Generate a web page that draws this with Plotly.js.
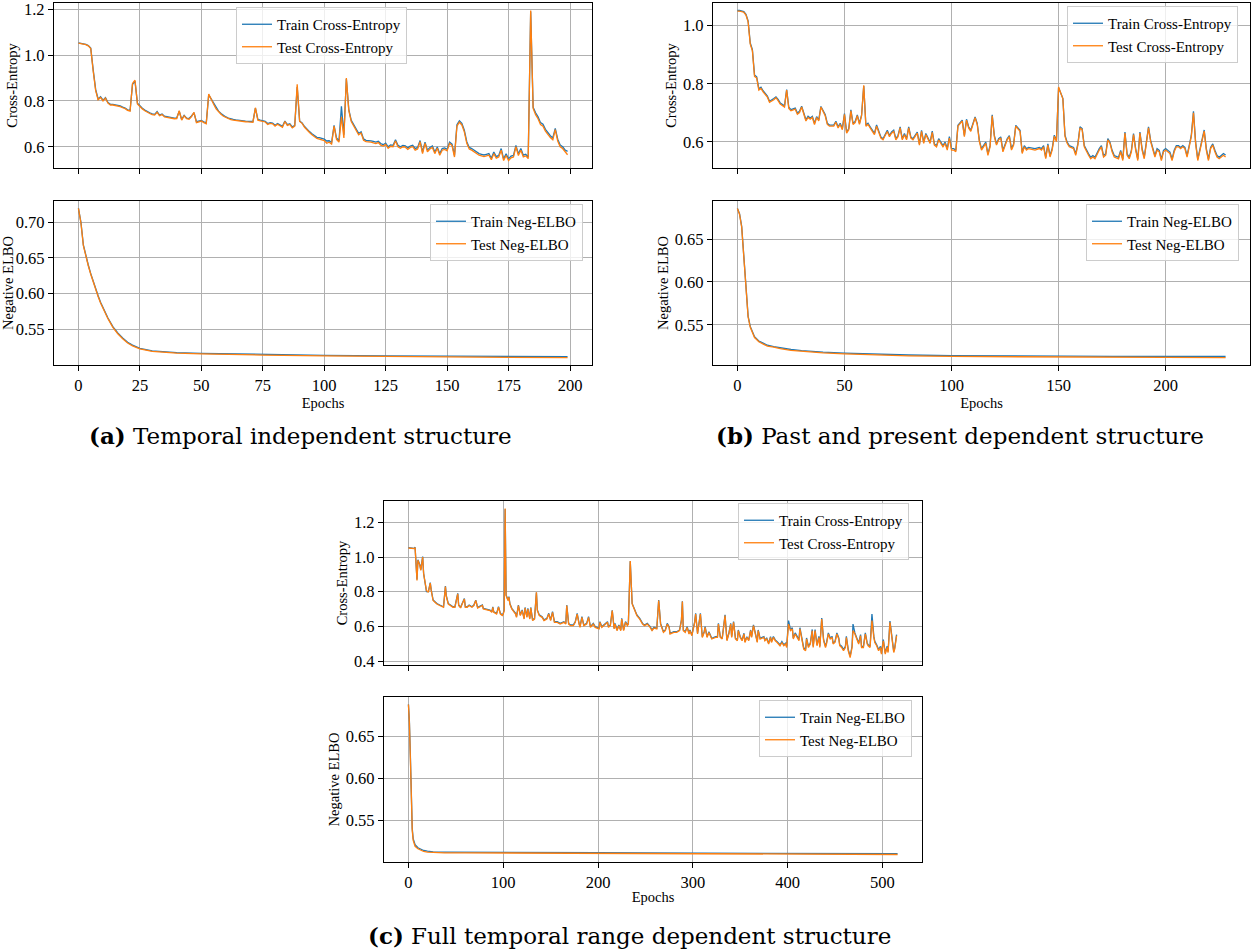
<!DOCTYPE html>
<html><head><meta charset="utf-8">
<script src="https://cdn.plot.ly/plotly-3.0.1.min.js"></script>
<style>body{margin:0;background:#fff}</style></head><body>
<div id="chart" style="width:1253px;height:950px"></div>
<script>
// ---------- (a) Temporal independent structure ----------
const aCeTest = [1.052,1.050,1.048,1.045,1.040,1.028,0.930,0.845,0.805,0.815,
0.800,0.812,0.790,0.782,0.782,0.780,0.778,0.775,0.770,0.766,
0.758,0.755,0.876,0.890,0.787,0.775,0.765,0.757,0.750,0.745,
0.740,0.738,0.750,0.735,0.740,0.730,0.728,0.725,0.724,0.722,
0.723,0.757,0.716,0.735,0.722,0.720,0.731,0.750,0.705,0.710,
0.712,0.705,0.700,0.830,0.805,0.785,0.765,0.752,0.742,0.733,
0.727,0.722,0.718,0.716,0.714,0.712,0.711,0.710,0.709,0.708,
0.707,0.707,0.770,0.716,0.713,0.712,0.708,0.697,0.702,0.700,
0.690,0.698,0.693,0.685,0.710,0.693,0.697,0.682,0.690,0.872,
0.710,0.702,0.685,0.672,0.662,0.652,0.643,0.636,0.633,0.630,
0.627,0.615,0.620,0.612,0.690,0.632,0.620,0.730,0.638,0.900,
0.757,0.710,0.690,0.667,0.652,0.660,0.628,0.622,0.622,0.620,
0.617,0.614,0.618,0.607,0.603,0.610,0.593,0.602,0.600,0.625,
0.600,0.593,0.600,0.598,0.588,0.597,0.600,0.585,0.590,0.622,
0.570,0.615,0.578,0.590,0.597,0.570,0.593,0.563,0.585,0.588,
0.582,0.615,0.605,0.555,0.690,0.707,0.695,0.665,0.615,0.590,
0.585,0.578,0.572,0.563,0.560,0.557,0.560,0.563,0.543,0.570,
0.550,0.555,0.585,0.540,0.562,0.540,0.552,0.555,0.600,0.562,
0.585,0.556,0.560,0.548,1.194,0.767,0.740,0.722,0.697,0.690,
0.668,0.652,0.640,0.630,0.675,0.625,0.600,0.592,0.578,0.565];
const aCeTrain = [1.053,1.051,1.049,1.046,1.041,1.030,0.935,0.850,0.808,0.818,
0.803,0.814,0.793,0.785,0.785,0.783,0.781,0.778,0.773,0.769,
0.761,0.758,0.872,0.886,0.790,0.778,0.768,0.760,0.753,0.748,
0.743,0.741,0.753,0.738,0.743,0.733,0.731,0.728,0.727,0.725,
0.726,0.755,0.719,0.737,0.725,0.723,0.734,0.748,0.709,0.713,
0.715,0.709,0.704,0.826,0.808,0.788,0.768,0.755,0.745,0.736,
0.730,0.725,0.721,0.719,0.717,0.715,0.714,0.713,0.712,0.711,
0.710,0.710,0.768,0.719,0.716,0.715,0.711,0.701,0.705,0.703,
0.694,0.701,0.696,0.689,0.712,0.696,0.700,0.686,0.693,0.860,
0.712,0.704,0.688,0.675,0.666,0.657,0.648,0.641,0.640,0.636,
0.633,0.625,0.626,0.618,0.693,0.638,0.626,0.776,0.652,0.895,
0.762,0.715,0.695,0.672,0.658,0.665,0.634,0.628,0.628,0.626,
0.623,0.620,0.624,0.614,0.609,0.616,0.600,0.608,0.606,0.630,
0.606,0.600,0.606,0.604,0.595,0.603,0.606,0.592,0.597,0.627,
0.577,0.620,0.585,0.597,0.603,0.577,0.599,0.570,0.592,0.595,
0.589,0.620,0.611,0.562,0.696,0.713,0.702,0.672,0.622,0.597,
0.592,0.585,0.579,0.570,0.567,0.564,0.567,0.570,0.550,0.577,
0.557,0.562,0.592,0.547,0.569,0.547,0.559,0.562,0.606,0.569,
0.592,0.563,0.567,0.555,1.190,0.772,0.748,0.730,0.705,0.698,
0.676,0.660,0.648,0.638,0.680,0.633,0.608,0.600,0.586,0.580];
const aCeEpochs = aCeTest.map((v, i) => i);

const aElboEpochs = [0,1,2,3,4,5,6,7,8,9,10,12,14,16,18,20,22,25,30,35,40,50,60,75,100,125,150,175,199];
const aElboTrain = [0.719,0.700,0.668,0.652,0.640,0.628,0.617,0.606,0.597,0.588,0.580,0.566,0.554,0.545,0.538,0.532,0.528,0.5235,0.5200,0.5185,0.5175,0.5165,0.5158,0.5150,0.5138,0.5130,0.5125,0.5122,0.5120];
const aElboTest  = [0.719,0.699,0.667,0.651,0.639,0.627,0.616,0.605,0.596,0.587,0.579,0.565,0.553,0.544,0.537,0.531,0.527,0.5228,0.5193,0.5178,0.5168,0.5158,0.5150,0.5142,0.5130,0.5120,0.5114,0.5110,0.5107];

// ---------- (b) Past and present dependent structure ----------
const bCeEpochs = [0,1,3,4,5,6,7,8,9,10,
11,12,14,15,17,18,19,20,22,23,
24,25,27,28,29,30,32,33,34,35,
36,37,38,39,41,42,43,45,46,47,
48,49,50,51,52,53,54,55,56,57,
58,59,60,61,62,64,65,66,67,68,
70,71,72,73,74,75,76,77,78,79,
80,81,82,84,85,86,87,88,90,91,
92,93,94,95,96,97,98,99,100,101,
102,103,105,106,107,108,109,111,112,113,
114,116,117,118,119,120,121,122,123,124,
126,127,128,129,130,132,133,134,135,136,
138,139,141,142,143,144,145,146,147,148,
149,150,152,153,154,155,157,158,159,160,
161,162,164,165,166,167,169,170,171,172,
173,174,175,176,178,179,180,181,182,183,
184,185,186,187,188,189,190,191,192,193,
194,195,196,197,198,199,200,202,203,204,
205,206,207,208,209,210,211,212,213,214,
215,216,217,218,219,220,221,222,223,224,
225,226,227,228];
const bCeTest = [1.050,1.050,1.046,1.036,1.013,0.936,0.913,0.825,0.820,0.778,
0.784,0.772,0.754,0.736,0.745,0.752,0.742,0.730,0.720,0.778,
0.715,0.707,0.713,0.695,0.701,0.720,0.672,0.684,0.678,0.684,
0.660,0.684,0.672,0.720,0.690,0.660,0.654,0.654,0.668,0.648,
0.660,0.642,0.695,0.630,0.642,0.707,0.660,0.666,0.690,0.660,
0.690,0.795,0.654,0.660,0.648,0.625,0.654,0.630,0.613,0.607,
0.636,0.618,0.630,0.636,0.607,0.618,0.648,0.607,0.625,0.607,
0.648,0.613,0.607,0.630,0.589,0.636,0.595,0.625,0.595,0.633,
0.589,0.583,0.607,0.595,0.583,0.595,0.572,0.613,0.572,0.572,
0.566,0.654,0.672,0.618,0.675,0.648,0.636,0.683,0.660,0.601,
0.572,0.595,0.554,0.583,0.690,0.618,0.589,0.607,0.613,0.566,
0.607,0.618,0.572,0.589,0.654,0.636,0.560,0.583,0.572,0.577,
0.572,0.572,0.577,0.572,0.583,0.542,0.589,0.548,0.572,0.619,
0.601,0.789,0.748,0.619,0.595,0.583,0.577,0.554,0.589,0.648,
0.642,0.583,0.554,0.542,0.548,0.542,0.572,0.583,0.548,0.554,
0.607,0.595,0.566,0.548,0.542,0.566,0.536,0.630,0.554,0.542,
0.566,0.625,0.572,0.536,0.630,0.572,0.542,0.595,0.648,0.601,
0.572,0.548,0.572,0.566,0.536,0.566,0.572,0.560,0.536,0.566,
0.583,0.583,0.577,0.583,0.577,0.548,0.583,0.619,0.700,0.595,
0.536,0.572,0.601,0.637,0.572,0.536,0.577,0.589,0.566,0.548,
0.542,0.548,0.554,0.548];
const bCeTrain = [1.052,1.052,1.048,1.039,1.016,0.940,0.917,0.830,0.824,0.783,
0.788,0.776,0.758,0.740,0.749,0.755,0.746,0.734,0.724,0.780,
0.719,0.711,0.716,0.699,0.705,0.723,0.676,0.688,0.682,0.688,
0.664,0.687,0.676,0.722,0.694,0.664,0.658,0.658,0.671,0.652,
0.664,0.646,0.697,0.634,0.646,0.710,0.664,0.670,0.693,0.664,
0.693,0.792,0.658,0.664,0.652,0.629,0.658,0.634,0.617,0.611,
0.640,0.622,0.634,0.640,0.611,0.622,0.652,0.611,0.629,0.611,
0.652,0.617,0.611,0.634,0.593,0.640,0.599,0.629,0.599,0.637,
0.593,0.587,0.611,0.599,0.587,0.599,0.577,0.618,0.577,0.577,
0.571,0.657,0.675,0.622,0.678,0.652,0.640,0.686,0.664,0.605,
0.577,0.599,0.559,0.587,0.693,0.622,0.593,0.611,0.617,0.571,
0.611,0.622,0.577,0.593,0.657,0.640,0.565,0.587,0.577,0.581,
0.577,0.577,0.581,0.577,0.587,0.547,0.593,0.553,0.577,0.623,
0.605,0.786,0.750,0.623,0.599,0.587,0.581,0.559,0.593,0.652,
0.646,0.587,0.559,0.547,0.553,0.547,0.577,0.587,0.553,0.559,
0.611,0.599,0.571,0.553,0.547,0.571,0.541,0.634,0.559,0.547,
0.571,0.629,0.577,0.541,0.634,0.577,0.547,0.599,0.652,0.605,
0.577,0.553,0.577,0.571,0.541,0.571,0.577,0.565,0.541,0.571,
0.587,0.587,0.581,0.587,0.581,0.553,0.587,0.623,0.705,0.599,
0.541,0.577,0.605,0.641,0.577,0.541,0.581,0.593,0.571,0.553,
0.547,0.553,0.560,0.555];

const bElboEpochs = [0,1,2,3,4,5,6,7,8,10,12,14,17,20,25,30,35,40,50,60,70,80,100,125,150,175,200,228];
const bElboTrain = [0.686,0.680,0.665,0.632,0.588,0.560,0.548,0.541,0.536,0.531,0.528,0.526,0.5245,0.5230,0.5210,0.5198,0.5188,0.5180,0.5168,0.5160,0.5152,0.5146,0.5139,0.5134,0.5131,0.5130,0.5129,0.5128];
const bElboTest  = [0.686,0.679,0.664,0.630,0.586,0.559,0.547,0.540,0.535,0.530,0.527,0.525,0.5238,0.5220,0.5200,0.5188,0.5178,0.5170,0.5158,0.5150,0.5142,0.5136,0.5129,0.5124,0.5120,0.5118,0.5117,0.5116];

// ---------- (c) Full temporal range dependent structure ----------
const cCeEpochs = [0,3,6,7,8,9,10,12,13,14,
15,16,18,19,21,23,24,25,26,28,
30,33,37,39,40,42,44,47,49,52,
53,55,56,59,60,62,64,67,69,71,
73,76,78,79,83,86,88,89,90,93,
95,97,99,100,101,102,103,105,106,107,
109,113,114,116,118,120,122,123,125,126,
128,129,131,133,135,136,138,141,143,146,
148,150,152,154,157,160,164,166,167,169,
171,174,176,178,180,181,183,185,188,190,
192,195,197,201,202,204,206,210,211,213,
215,217,218,220,222,224,225,227,229,231,
232,234,236,239,241,244,247,249,252,255,
257,259,262,264,266,269,271,273,275,276,
280,283,286,288,289,290,292,294,296,297,
299,302,303,305,306,308,310,312,313,315,
317,319,320,324,326,327,329,331,334,336,
338,340,341,343,345,347,348,350,352,354,
355,357,359,361,362,364,366,368,369,371,
375,376,378,380,382,383,385,387,389,392,
394,396,398,399,401,403,405,406,408,410,
412,413,415,417,419,420,422,424,426,427,
429,431,433,434,436,438,440,441,443,445,
447,448,450,452,454,455,457,459,461,462,
464,466,468,469,471,473,475,477,478,480,
482,484,485,487,489,491,492,494,496,498,
499,501,503,505,506,508,510,512,513,515];
const cCeTest = [1.052,1.050,1.048,1.054,0.971,0.865,0.981,0.952,0.923,0.971,
1.000,0.903,0.845,0.807,0.797,0.849,0.807,0.768,0.749,0.739,
0.729,0.720,0.710,0.830,0.772,0.729,0.720,0.710,0.710,0.787,
0.720,0.706,0.720,0.758,0.710,0.710,0.720,0.710,0.720,0.749,
0.706,0.712,0.720,0.700,0.695,0.691,0.681,0.710,0.681,0.671,
0.710,0.671,0.662,0.671,0.691,1.280,0.778,0.749,0.768,0.729,
0.700,0.671,0.652,0.720,0.662,0.691,0.642,0.706,0.652,0.700,
0.642,0.706,0.633,0.642,0.797,0.691,0.662,0.652,0.633,0.642,
0.671,0.633,0.681,0.623,0.623,0.613,0.623,0.613,0.720,0.613,
0.604,0.604,0.623,0.671,0.613,0.594,0.652,0.604,0.613,0.652,
0.594,0.613,0.594,0.585,0.623,0.594,0.604,0.623,0.594,0.604,
0.691,0.585,0.613,0.575,0.604,0.575,0.642,0.575,0.623,0.604,
0.613,0.977,0.729,0.691,0.662,0.642,0.613,0.604,0.613,0.594,
0.575,0.590,0.585,0.749,0.613,0.565,0.575,0.613,0.594,0.556,
0.565,0.565,0.575,0.633,0.743,0.575,0.565,0.594,0.556,0.575,
0.546,0.623,0.671,0.556,0.594,0.671,0.536,0.565,0.594,0.536,
0.565,0.536,0.527,0.536,0.536,0.613,0.536,0.527,0.662,0.517,
0.556,0.613,0.536,0.623,0.527,0.517,0.575,0.536,0.517,0.556,
0.507,0.536,0.517,0.575,0.536,0.604,0.556,0.507,0.575,0.527,
0.536,0.517,0.527,0.498,0.536,0.507,0.536,0.517,0.507,0.488,
0.507,0.488,0.498,0.478,0.613,0.575,0.585,0.527,0.556,0.536,
0.517,0.585,0.517,0.469,0.459,0.527,0.478,0.498,0.575,0.478,
0.575,0.488,0.536,0.478,0.642,0.517,0.478,0.498,0.556,0.527,
0.536,0.498,0.507,0.556,0.527,0.488,0.478,0.459,0.478,0.536,
0.459,0.420,0.478,0.575,0.556,0.527,0.498,0.546,0.478,0.478,
0.556,0.498,0.488,0.478,0.633,0.536,0.507,0.488,0.459,0.478,
0.440,0.517,0.440,0.478,0.449,0.623,0.536,0.449,0.469,0.546];
const cCeTrain = [1.054,1.052,1.050,1.056,0.975,0.870,0.984,0.955,0.927,0.974,
1.002,0.906,0.848,0.800,0.800,0.852,0.810,0.771,0.752,0.742,
0.732,0.723,0.713,0.832,0.775,0.732,0.723,0.713,0.713,0.790,
0.723,0.709,0.723,0.760,0.713,0.713,0.723,0.713,0.723,0.751,
0.709,0.715,0.723,0.703,0.698,0.694,0.684,0.713,0.684,0.675,
0.713,0.675,0.666,0.675,0.695,1.275,0.781,0.752,0.771,0.732,
0.704,0.675,0.656,0.723,0.666,0.695,0.646,0.709,0.656,0.704,
0.646,0.709,0.637,0.646,0.795,0.695,0.666,0.656,0.637,0.646,
0.675,0.637,0.685,0.627,0.627,0.617,0.627,0.617,0.722,0.617,
0.608,0.608,0.627,0.675,0.617,0.598,0.656,0.608,0.617,0.656,
0.598,0.617,0.598,0.589,0.627,0.598,0.608,0.627,0.598,0.608,
0.693,0.589,0.617,0.579,0.608,0.579,0.646,0.579,0.627,0.608,
0.617,0.975,0.732,0.694,0.666,0.646,0.617,0.608,0.617,0.598,
0.579,0.594,0.589,0.751,0.617,0.569,0.579,0.617,0.598,0.560,
0.569,0.569,0.579,0.637,0.745,0.579,0.569,0.598,0.560,0.579,
0.550,0.627,0.675,0.560,0.598,0.675,0.540,0.569,0.598,0.540,
0.569,0.540,0.531,0.540,0.540,0.617,0.540,0.531,0.666,0.521,
0.560,0.617,0.540,0.627,0.531,0.521,0.579,0.540,0.521,0.560,
0.512,0.540,0.521,0.579,0.540,0.608,0.560,0.512,0.579,0.531,
0.541,0.522,0.532,0.503,0.541,0.512,0.541,0.522,0.512,0.494,
0.512,0.494,0.503,0.485,0.633,0.582,0.592,0.533,0.562,0.542,
0.523,0.592,0.523,0.476,0.466,0.533,0.485,0.504,0.582,0.485,
0.582,0.494,0.542,0.485,0.648,0.523,0.485,0.504,0.562,0.533,
0.542,0.504,0.513,0.562,0.533,0.494,0.485,0.466,0.485,0.542,
0.466,0.428,0.485,0.613,0.562,0.533,0.504,0.552,0.485,0.485,
0.562,0.504,0.494,0.485,0.671,0.542,0.513,0.494,0.466,0.485,
0.447,0.523,0.447,0.485,0.456,0.630,0.542,0.456,0.476,0.552];

const cElboEpochs = [0,1,2,3,4,5,7,10,13,16,20,26,38,60,100,150,200,250,300,350,400,450,516];
const cElboTrain = [0.688,0.668,0.628,0.567,0.540,0.528,0.521,0.5172,0.5152,0.5140,0.5131,0.5124,0.5121,0.5121,0.5120,0.5116,0.5113,0.5111,0.5109,0.5107,0.5105,0.5103,0.5101];
const cElboTest  = [0.688,0.666,0.625,0.565,0.538,0.526,0.519,0.5160,0.5140,0.5128,0.5120,0.5115,0.5112,0.5112,0.5111,0.5108,0.5105,0.5102,0.5099,0.5097,0.5095,0.5093,0.5092];

const ceNames = ['Train Cross-Entropy', 'Test Cross-Entropy'];
const elboNames = ['Train Neg-ELBO', 'Test Neg-ELBO'];
const captions = ['<b>(a)</b> Temporal independent structure',
                  '<b>(b)</b> Past and present dependent structure',
                  '<b>(c)</b> Full temporal range dependent structure'];

// ---------- helpers ----------
const W = 1253, H = 950;
const BLUE = '#1f77b4', ORANGE = '#ff7f0e';
function pad(arrs) {
  let lo = Infinity, hi = -Infinity;
  arrs.forEach(a => a.forEach(v => { if (v < lo) lo = v; if (v > hi) hi = v; }));
  const p = 0.05 * (hi - lo);
  return [lo - p, hi + p];
}
const dx = (l, r) => [l / W, r / W];
const dy = (t, b) => [1 - b / H, 1 - t / H];

const traces = [];
function addPair(xs, tr, te, names, ax, leg) {
  traces.push({x: xs, y: tr, mode: 'lines', name: names[0], line: {color: BLUE, width: 1.3},
               xaxis: 'x' + ax, yaxis: 'y' + ax, legend: leg});
  traces.push({x: xs, y: te, mode: 'lines', name: names[1], line: {color: ORANGE, width: 1.3},
               xaxis: 'x' + ax, yaxis: 'y' + ax, legend: leg});
}
addPair(aCeEpochs, aCeTrain, aCeTest, ceNames, '', 'legend');
addPair(aElboEpochs, aElboTrain, aElboTest, elboNames, '2', 'legend2');
addPair(bCeEpochs, bCeTrain, bCeTest, ceNames, '3', 'legend3');
addPair(bElboEpochs, bElboTrain, bElboTest, elboNames, '4', 'legend4');
addPair(cCeEpochs, cCeTrain, cCeTest, ceNames, '5', 'legend5');
addPair(cElboEpochs, cElboTrain, cElboTest, elboNames, '6', 'legend6');

const SERIF = "'Liberation Serif', 'Times New Roman', Times, serif";
const base = {
  ticks: 'outside', ticklen: 5, tickwidth: 1, tickcolor: '#000',
  showline: true, mirror: true, linecolor: '#000', linewidth: 1.2,
  showgrid: true, gridcolor: '#b0b0b0', gridwidth: 1, zeroline: false,
  ticklabeloverflow: 'allow',
  tickfont: {family: SERIF, size: 16.5, color: '#000'}
};
function xax(domain, range, dtick, labels, anchor) {
  const o = Object.assign({}, base, {domain, range, dtick, tick0: 0, showticklabels: labels, anchor});
  if (labels) o.title = {text: 'Epochs', font: {family: SERIF, size: 14.5}, standoff: 0};
  return o;
}
function yax(domain, range, dtick, fmt, title, anchor) {
  return Object.assign({}, base, {domain, range, dtick, tick0: 0, tickformat: fmt, anchor,
    title: {text: title, font: {family: SERIF, size: 14.5}, standoff: 2}});
}

const aX = pad([aCeEpochs, aElboEpochs]);
const bX = pad([bCeEpochs, bElboEpochs]);
const cX = pad([cCeEpochs, cElboEpochs]);

const aXd = dx(54, 592), bXd = dx(713, 1250), cXd = dx(384, 922);

const legBase = {xanchor: 'left', yanchor: 'top', bgcolor: 'rgba(255,255,255,0.8)',
  bordercolor: '#cccccc', borderwidth: 1, font: {family: SERIF, size: 15, color: '#000'}, tracegroupgap: 0};
const leg = (x, y) => Object.assign({}, legBase, {x: x / W, y: 1 - y / H});

const capFont = {family: 'DejaVu Serif', size: 23, color: '#000'};
const layout = {
  width: W, height: H, margin: {l: 0, r: 0, t: 0, b: 0},
  paper_bgcolor: '#fff', plot_bgcolor: '#fff',
  font: {family: SERIF, size: 15, color: '#000'},
  showlegend: true,
  xaxis:  xax(aXd, aX, 25, false, 'y'),
  yaxis:  yax(dy(3, 168), pad([aCeTrain, aCeTest]), 0.2, '.1f', 'Cross-Entropy', 'x'),
  xaxis2: xax(aXd, aX, 25, true, 'y2'),
  yaxis2: yax(dy(201, 365), pad([aElboTrain, aElboTest]), 0.05, '.2f', 'Negative ELBO', 'x2'),
  xaxis3: xax(bXd, bX, 50, false, 'y3'),
  yaxis3: yax(dy(3, 168), pad([bCeTrain, bCeTest]), 0.2, '.1f', 'Cross-Entropy', 'x3'),
  xaxis4: xax(bXd, bX, 50, true, 'y4'),
  yaxis4: yax(dy(201, 365), pad([bElboTrain, bElboTest]), 0.05, '.2f', 'Negative ELBO', 'x4'),
  xaxis5: xax(cXd, cX, 100, false, 'y5'),
  yaxis5: yax(dy(501, 665), pad([cCeTrain, cCeTest]), 0.2, '.1f', 'Cross-Entropy', 'x5'),
  xaxis6: xax(cXd, cX, 100, true, 'y6'),
  yaxis6: yax(dy(697, 862), pad([cElboTrain, cElboTest]), 0.05, '.2f', 'Negative ELBO', 'x6'),
  legend:  leg(236, 7),
  legend2: leg(430, 204),
  legend3: leg(1067, 6),
  legend4: leg(1086, 204),
  legend5: leg(738, 503),
  legend6: leg(759, 700),
  annotations: [
    {text: captions[0], xref: 'paper', yref: 'paper', x: 300 / W, y: 1 - 436 / H, showarrow: false, font: capFont, xanchor: 'center', yanchor: 'middle'},
    {text: captions[1], xref: 'paper', yref: 'paper', x: 960 / W, y: 1 - 436 / H, showarrow: false, font: capFont, xanchor: 'center', yanchor: 'middle'},
    {text: captions[2], xref: 'paper', yref: 'paper', x: 629 / W, y: 1 - 935 / H, showarrow: false, font: capFont, xanchor: 'center', yanchor: 'middle'}
  ]
};
Plotly.newPlot('chart', traces, layout, {displayModeBar: false, staticPlot: true});
</script>
</body></html>
